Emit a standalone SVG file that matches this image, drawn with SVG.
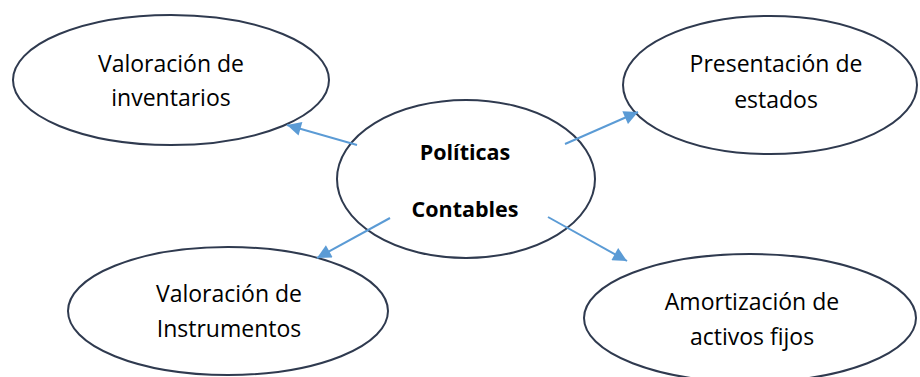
<svg xmlns="http://www.w3.org/2000/svg" width="920" height="377" viewBox="0 0 920 377">
<style>
.node ellipse{fill:#ffffff;stroke:#2f3a4f;stroke-width:2}
.lbl{font-family:"Open Sans","Liberation Sans",sans-serif;font-size:23px;fill:#000;text-anchor:middle}
.b{font-weight:bold;font-size:21.5px}
.conn line{stroke:#5b9bd5;stroke-width:2;marker-end:url(#ah)}
</style>
<defs>
<marker id="ah" viewBox="0 0 10 10" refX="10" refY="5" markerWidth="7.5" markerHeight="7" markerUnits="strokeWidth" orient="auto">
<path d="M0,0 L10,5 L0,10 z" fill="#5b9bd5"/>
</marker>
</defs>
<rect width="920" height="377" fill="#ffffff"/>
<g id="n-inventarios" class="node">
<ellipse cx="171" cy="80" rx="158" ry="65"/>
<text class="lbl" x="171" y="72">Valoración de</text>
<text class="lbl" x="171" y="106">inventarios</text>
</g>
<g id="n-presentacion" class="node">
<ellipse cx="770" cy="85" rx="147" ry="69"/>
<text class="lbl" x="776" y="72">Presentación de</text>
<text class="lbl" x="776" y="108">estados</text>
</g>
<g id="n-instrumentos" class="node">
<ellipse cx="228" cy="311" rx="160" ry="64"/>
<text class="lbl" x="229" y="302">Valoración de</text>
<text class="lbl" x="229" y="337">Instrumentos</text>
</g>
<g id="n-amortizacion" class="node">
<ellipse cx="750" cy="318" rx="166" ry="64"/>
<text class="lbl" x="752" y="310">Amortización de</text>
<text class="lbl" x="752" y="345">activos fijos</text>
</g>
<g id="n-politicas" class="node">
<ellipse cx="466" cy="179" rx="129" ry="79"/>
<text class="lbl b" x="465" y="160">Políticas</text>
<text class="lbl b" x="465" y="217">Contables</text>
</g>
<g id="connectors" class="conn">
<line x1="357" y1="145" x2="287" y2="125"/>
<line x1="565" y1="144" x2="638" y2="112"/>
<line x1="390" y1="218" x2="317" y2="258"/>
<line x1="548" y1="217" x2="627" y2="261"/>
</g>
</svg>
